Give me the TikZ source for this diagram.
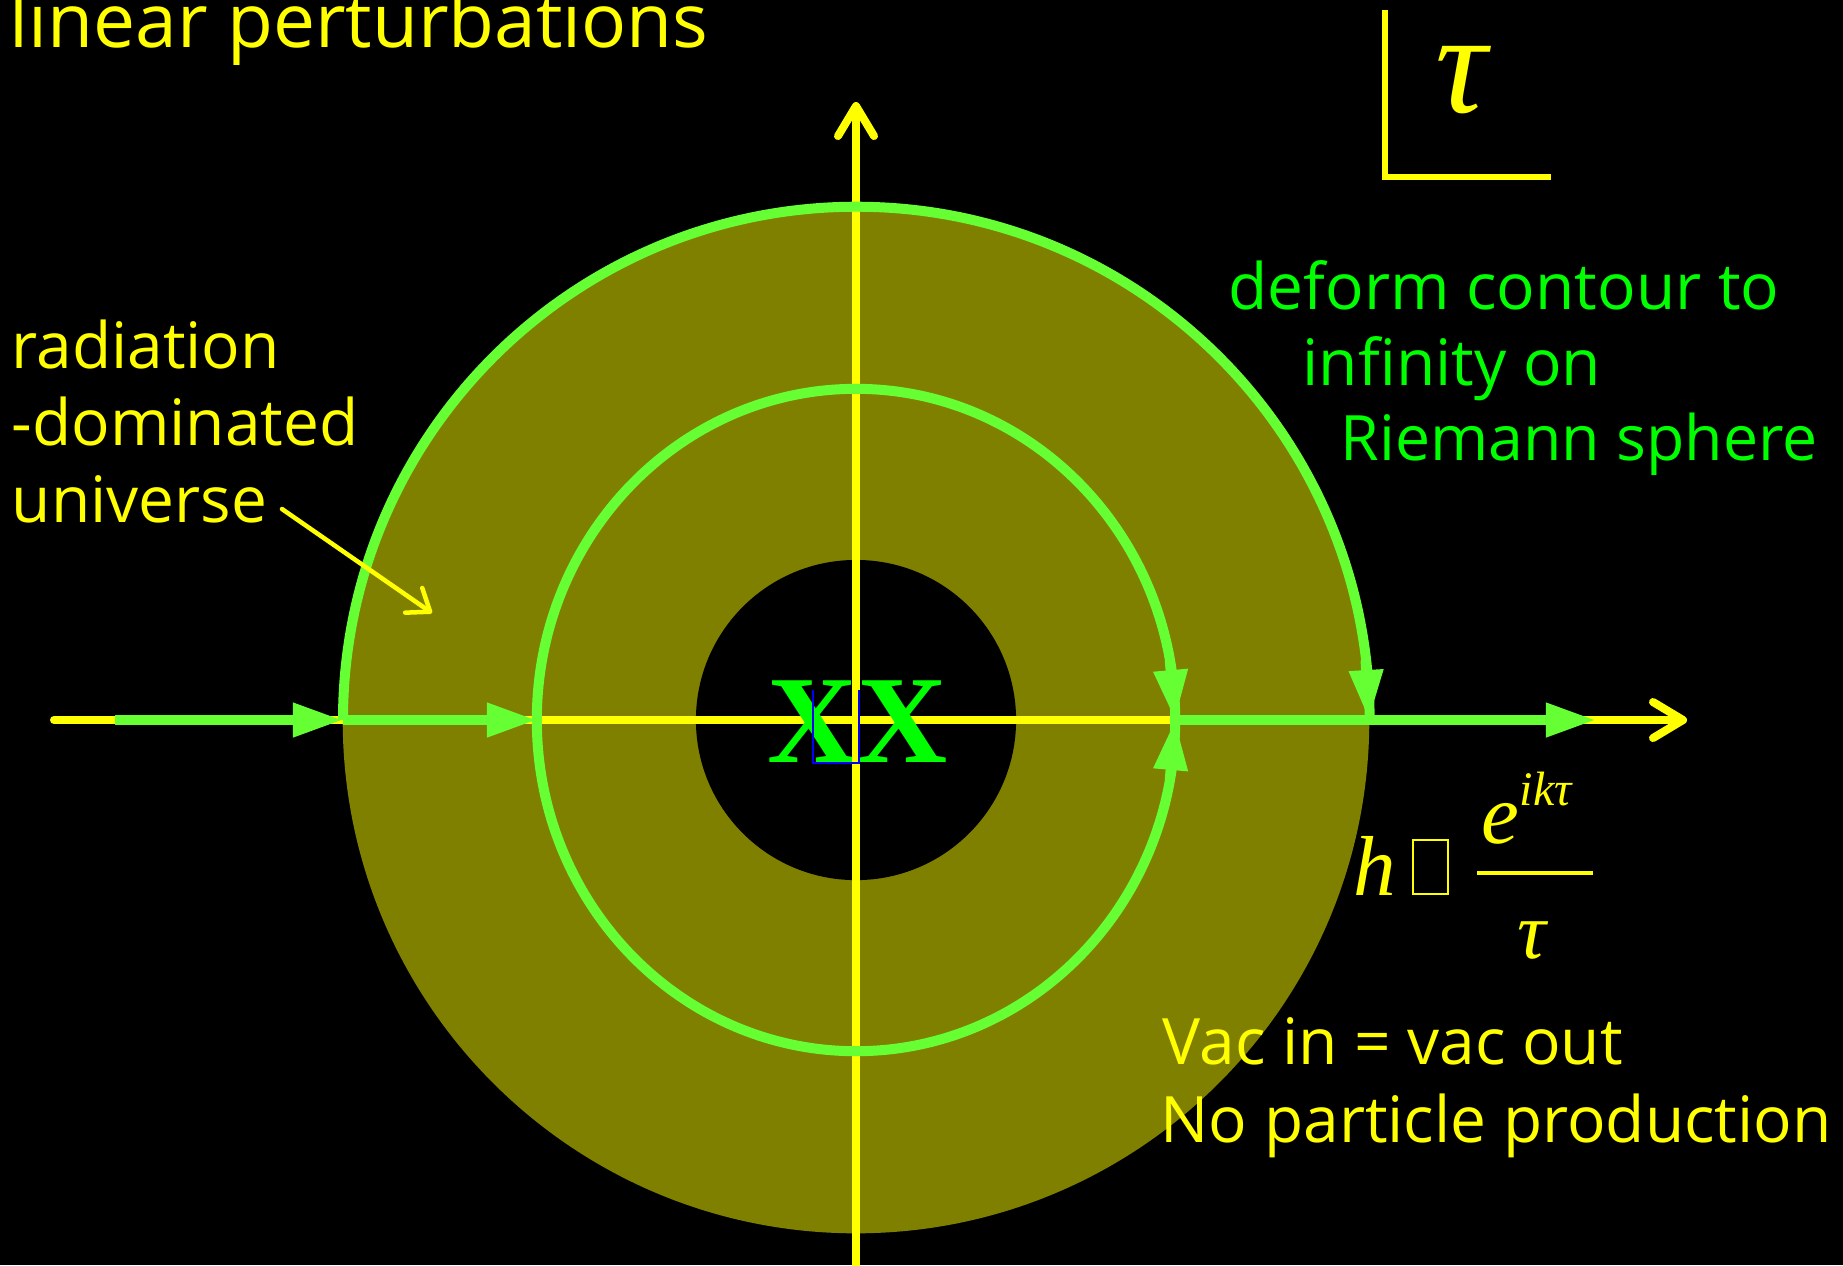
\documentclass[tikz,border=0pt]{standalone}
\usepackage{fontspec}
\setmainfont{Open Sans}
\newfontfamily\serifroman{Liberation Serif}
\usetikzlibrary{arrows.meta}
\definecolor{yel}{HTML}{FFFF00}
\definecolor{grn}{HTML}{66FF33}
\definecolor{txtgrn}{HTML}{00FF00}
\definecolor{olivefill}{HTML}{808000}
\definecolor{blueline}{HTML}{0000FF}
\begin{document}
\begin{tikzpicture}[x=0.01cm,y=-0.01cm,
  axisline/.style={yel, line width=0.08cm, line cap=round,
    -{Straight Barb[length=0.3cm,width=0.36cm,line cap=round,line join=round]}},
  plainaxis/.style={yel, line width=0.08cm},
  gline/.style={grn, line width=0.1cm},
  garrow/.style={grn, line width=0.1cm, -{Triangle[length=0.5cm,width=0.32cm]}},
  txt/.style={inner sep=0pt, anchor=base west, font=\fontsize{18.2pt}{22pt}\selectfont},
  mathit/.style={inner sep=0pt, anchor=base west, yel},
  pointer/.style={yel, line width=0.045cm, line cap=round,
    -{Straight Barb[length=0.2cm,width=0.3cm,line cap=round,line join=round]}}
]
\useasboundingbox (0,0) rectangle (1843,1265);
\clip (0,0) rectangle (1843,1265);
\fill[black] (0,0) rectangle (1843,1265);

% coordinates
\coordinate (C) at (856,720);
\coordinate (axL) at (54,720);
\coordinate (axR) at (1687,720);
\coordinate (axB) at (856,1265);
\coordinate (axT) at (856,102);
\coordinate (gstart) at (115,720);
\coordinate (outL) at (343,720);
\coordinate (midL) at (537,720);
\coordinate (midR) at (1175,720);
\coordinate (outR) at (1369,720);
\coordinate (gend) at (1596,720);
\coordinate (midTa) at (1169.7,660);
\coordinate (midBa) at (1169.7,780);
\coordinate (outTa) at (1365.5,660);

% olive annulus region
\fill[olivefill] (C) circle[radius=5.13cm];
\fill[black] (C) circle[radius=1.6cm];

% yellow axes
\draw[axisline] (axL) -- (axR);
\draw[axisline] (axB) -- (axT);

% green contours
\draw[gline] (C) ellipse[x radius=3.19cm, y radius=3.31cm];
\draw[gline] (outL) arc[start angle=180, end angle=0, radius=5.13cm];
\draw[garrow] (midTa) -- (midR);
\draw[garrow] (midBa) -- (midR);
\draw[garrow] (outTa) -- (outR);
\draw[garrow] (gstart) -- (outL);
\draw[garrow] (outL) -- (midL);
\draw[garrow] (midR) -- (gend);

% XX
\node[inner sep=0pt, anchor=base, txtgrn, font=\serifroman\bfseries\fontsize{35.5pt}{40pt}\selectfont] (xx) at (858,762) {XX};
\draw[plainaxis] (856,660) -- (856,790);
\draw[blueline, line width=0.02cm] (813,690) -- (813,763) -- (859,763) -- (859,690);

% title
\node[txt, yel, font=\fontsize{21.3pt}{24pt}\selectfont] (title) at (9,47) {linear perturbations};

% top-right tau with L axes
\draw[yel, line width=0.055cm] (1385,10) -- (1385,177) -- (1551,177);
\node[mathit, font=\serifroman\itshape\fontsize{41pt}{44pt}\selectfont] (tautop) at (1435,112) {τ};

% left labels
\node[txt, yel] (rad) at (11,368) {radiation};
\node[txt, yel] (dom) at (11,445) {-dominated};
\node[txt, yel] (uni) at (11,522) {universe};
\coordinate (ptrS) at (282,509);
\coordinate (ptrE) at (432,613);
\draw[pointer] (ptrS) -- (ptrE);

% right labels
\node[txt, txtgrn] (def) at (1228,309) {deform contour to};
\node[txt, txtgrn] (inf) at (1302,385) {infinity on};
\node[txt, txtgrn, font=\fontsize{17.8pt}{22pt}\selectfont] (rie) at (1340,460) {Riemann sphere};

\node[txt, yel] (vac) at (1162,1064) {Vac in = vac out};
\node[txt, yel] (nop) at (1160,1142) {No particle production};

% formula
\node[mathit, font=\serifroman\itshape\fontsize{24.2pt}{28pt}\selectfont] (hh) at (1353,895) {h};
\node[draw=yel, line width=0.015cm, inner sep=0pt, minimum width=0.35cm, minimum height=0.54cm, anchor=north west] (boxglyph) at (1412,839) {};
\node[mathit, font=\serifroman\itshape\fontsize{24.2pt}{28pt}\selectfont] (ee) at (1481,843) {e};
\node[mathit, font=\serifroman\itshape\fontsize{13.7pt}{16pt}\selectfont] (sup) at (1519,805) {ikτ};
\coordinate (barL) at (1477,873);
\coordinate (barR) at (1593,873);
\draw[yel, line width=0.04cm] (barL) -- (barR);
\node[mathit, font=\serifroman\itshape\fontsize{22.8pt}{26pt}\selectfont] (den) at (1517,958) {τ};
\end{tikzpicture}
\end{document}
